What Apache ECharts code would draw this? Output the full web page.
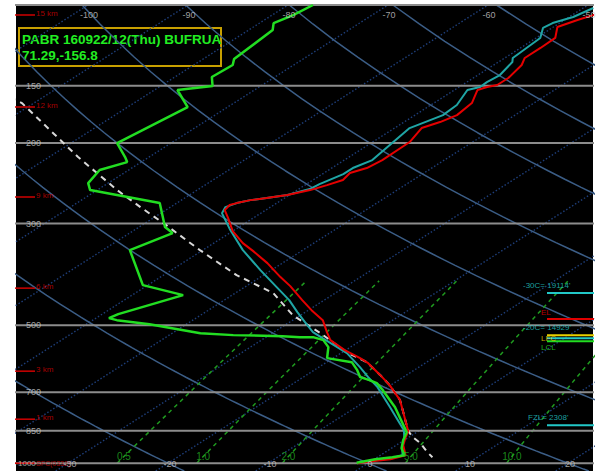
<!DOCTYPE html>
<html>
<head>
<meta charset="utf-8">
<script src="https://cdn.jsdelivr.net/npm/echarts/dist/echarts.min.js"></script>
<style>
  html, body { margin: 0; padding: 0; background: #fff; }
  #chart { width: 599px; height: 471px; }
</style>
</head>
<body>
<div id="chart"></div>
<script>
// ---- Sounding: PABR 160922/12Z (pressure hPa / temperature °C) ----
const tempP = [1000, 990.0, 980.1, 960.6, 913.6, 881.8, 851.5, 728.5, 675.6, 642.5, 604.9, 589.8, 566.6, 538.8, 517.6, 487.3, 463.4, 440.7, 410.7, 392.5, 365.9, 344.5, 330.9, 311.5, 291.8, 280.3, 273.3, 270.6, 266.6, 263.9, 259.9, 253.5, 247.2, 241.0, 232.7, 226.9, 218.0, 199.1, 185.6, 180.1, 173.9, 163.7, 153.3, 151.0, 149.5, 144.3, 135.2, 130.5, 124.1, 118.0, 111.7, 107.8, 105.2, 102.5];
const tempT = [-1.1, 0.1, 1.6, 2.5, 0.7, -0.2, -1.0, -6.7, -10.1, -12.6, -15.7, -17.3, -20.1, -23.1, -24.7, -27.0, -29.7, -32.2, -35.6, -38.0, -41.5, -44.8, -47.1, -50.0, -52.5, -54.1, -54.4, -54.0, -53.1, -51.8, -50.2, -48.7, -47.8, -47.0, -47.4, -46.5, -46.2, -46.3, -47.3, -46.4, -45.8, -46.2, -47.7, -47.2, -46.5, -46.5, -47.2, -48.0, -48.0, -48.1, -49.6, -48.7, -47.9, -47.0];

const virtP = [1000, 985.0, 975.2, 960.6, 922.7, 881.8, 847.1, 754.6, 682.4, 649.0, 617.1, 575.2, 533.4, 517.6, 497.2, 468.1, 440.7, 412.8, 379.0, 342.7, 309.9, 284.6, 276.1, 270.6, 266.6, 263.9, 259.9, 252.2, 246.0, 233.9, 226.9, 218.0, 185.6, 181.0, 173.9, 165.3, 153.3, 151.0, 147.3, 142.2, 133.2, 130.5, 118.0, 112.2, 109.5, 106.2, 101.5];
const virtT = [-1.1, 0.2, 1.6, 2.2, 0.9, -0.3, -1.6, -6.6, -11.0, -13.5, -15.9, -19.4, -24.2, -26.1, -28.0, -30.8, -33.5, -36.8, -41.1, -46.0, -50.4, -53.9, -54.5, -54.0, -53.1, -51.8, -50.2, -48.9, -48.7, -47.9, -47.9, -47.2, -48.5, -48.0, -47.2, -47.4, -48.7, -47.9, -48.0, -47.8, -48.6, -49.2, -49.6, -50.9, -50.7, -49.6, -49.0];

const dewP = [998, 980.1, 970.3, 960.6, 927.4, 890.8, 855.7, 754.6, 692.8, 668.9, 658.8, 649.0, 626.5, 601.8, 589.8, 558.1, 538.8, 530.8, 530.8, 528.1, 525.4, 520.2, 497.2, 487.3, 482.4, 472.8, 429.7, 408.6, 342.7, 314.6, 305.3, 270.6, 253.5, 244.7, 229.2, 220.2, 214.7, 200.1, 167.0, 153.3, 150.3, 143.6, 135.2, 131.2, 113.4, 109.5, 105.2, 100.0];
const dewT = [-1.2, 0.1, 1.5, 2.4, 1.0, -0.1, -1.0, -6.1, -10.0, -11.7, -12.9, -14.3, -15.7, -17.5, -20.6, -22.2, -23.8, -25.3, -26.6, -28.5, -33.6, -37.2, -43.7, -47.6, -48.7, -48.4, -44.9, -50.5, -57.3, -55.7, -57.4, -61.7, -70.7, -72.0, -72.9, -71.4, -72.4, -75.4, -74.0, -77.7, -74.8, -76.3, -76.1, -76.9, -77.6, -78.6, -77.9, -77.5];

// Lifted parcel (runs under the temperature trace between ~850 and ~600 hPa)
const parcelP = [158.8, 163.7, 214.7, 253.5, 276.1, 299.2, 342.7, 388.6, 425.4, 475.2, 520.2, 572.3, 601.8, 642.5, 675.6, 728.5, 851.5, 877.5, 904.3, 946.2, 970.3];
const parcelT = [-93.3, -91.2, -77.1, -68.0, -63.0, -58.2, -50.3, -42.7, -36.2, -30.8, -25.2, -19.6, -16.0, -12.6, -10.1, -6.7, -1.0, 0.4, 2.1, 4.2, 5.5];

// ---- Diagram background families ----
const isotherms = [-120, -110, -100, -90, -80, -70, -60, -50, -40, -30, -20, -10, 0, 10, 20, 30];
const dryAdiabatsK = [233.15, 253.15, 273.15, 293.15, 313.15, 333.15, 353.15, 373.15, 393.15, 413.15, 433.15, 453.15, 473.15];
const mixingRatios = [0.5, 1.0, 2.0, 5.0, 10.0, 20.0];
const mixingLabels = ['0.5', '1.0', '2.0', '5.0', '10.0'];
const pressureLines = [100, 150, 200, 300, 500, 700, 850, 1000];
const pressureLabels = ['150', '200', '300', '500', '700', '850', '1000'];
const pressureLabelLevels = [150, 200, 300, 500, 700, 850, 1000];
const topTempLabels = [-100, -90, -80, -70, -60, -50];
const bottomTempLabels = [-30, -20, -10, 0, 10, 20];

// Height markers (left edge)
const heightTexts = ['15 km', '12 km', '9 km', '6 km', '3 km', '1 km', 'SFC(0332)'];
const heightLevels = [105.2, 167.0, 262.6, 414.9, 629.7, 801.6, 1000];

// Level annotations (right edge)
const levelTexts = ["-30C= 19114'", 'EL', "-20C= 14929'", 'LFC', 'LCL', "FZL= 2308'"];
const levelPress = [425.4, 484.8, 533.4, 525.4, 541.5, 826.1];
const levelColors = ['#22c8c8', '#e00000', '#22c8c8', '#e8d000', '#22dd22', '#22c8c8'];

const titleLine1 = 'PABR 160922/12(Thu) BUFRUA';
const titleLine2 = '71.29,-156.8';

// ---- Skew-T geometry ----
const P_TOP = 100, P_BOT = 1040;
const X_MIN = -35.2, X_MAX = 22.5;
const SKEW = 72 / Math.LN10;          // isotherms lean 72 °C per pressure decade
const skewX = (t, p) => t + SKEW * Math.log(1000 / p);
const toPts = (ps, ts) => ps.map((p, i) => [skewX(ts[i], p), p]);

function dewFromMix(w, p) {
  const e = w * p / (622 + w);
  const a = Math.log(e / 6.112);
  return 243.5 * a / (17.67 - a);
}

const series = [];
function addLine(data, lineStyle, z) {
  series.push({
    type: 'line', data, symbol: 'none', showSymbol: false, silent: true,
    animation: false, clip: true, z, lineStyle
  });
}
function addLabels(items, label, z) {
  series.push({
    type: 'scatter', symbolSize: 1, silent: true, animation: false, clip: false, z,
    itemStyle: { color: 'rgba(0,0,0,0)' },
    data: items.map(it => {
      const d = { name: it.text, value: [it.x, it.p] };
      if (it.label) d.label = it.label;
      return d;
    }),
    label: Object.assign({ show: true, formatter: '{b}', position: 'inside',
      fontFamily: 'Liberation Sans', fontSize: 9 }, label)
  });
}

// Isotherms (dotted)
isotherms.forEach(t => addLine([[skewX(t, P_BOT), P_BOT], [skewX(t, P_TOP), P_TOP]],
  { color: '#1d3d78', width: 1.4, type: [1.5, 2] }, 1));

// Dry adiabats
const adiabatLevels = [];
for (let p = P_BOT; p >= P_TOP; p -= 10) adiabatLevels.push(p);
dryAdiabatsK.forEach(th => addLine(adiabatLevels.map(p => {
  const t = th * Math.pow(p / 1000, 0.2857) - 273.15;
  return [skewX(t, p), p];
}), { color: '#3b5d86', width: 1.5 }, 1));

// Saturation mixing-ratio lines (1000-400 hPa)
const mixLevels = [];
for (let p = 1000; p >= 400; p -= 25) mixLevels.push(p);
mixingRatios.forEach(w => addLine(mixLevels.map(p => [skewX(dewFromMix(w, p), p), p]),
  { color: '#1f9a1f', width: 1.5, type: [4, 4] }, 2));

// Pressure levels
pressureLines.forEach(p => addLine([[X_MIN - 1, p], [X_MAX + 1, p]],
  { color: '#8c8c8c', width: 2 }, 3));

// Height markers
heightLevels.forEach(p => addLine([[X_MIN - 0.5, p], [X_MIN + 1.9, p]],
  { color: '#d00000', width: 1.5 }, 6));

// Right-hand level lines
levelPress.forEach((p, i) => addLine([[17.9, p], [X_MAX + 1, p]],
  { color: levelColors[i], width: 2 }, 6));

// Parcel path
addLine(toPts(parcelP, parcelT), { color: '#d8d8d8', width: 2, type: [6, 5] }, 4);
// Virtual temperature, temperature, dewpoint
addLine(toPts(virtP, virtT), { color: '#1fa5a5', width: 2 }, 5);
addLine(toPts(tempP, tempT), { color: '#e50000', width: 2 }, 5);
addLine(toPts(dewP, dewT), { color: '#22dd22', width: 2.5 }, 5);

// Pressure labels
addLabels(pressureLabels.map((s, i) => ({
  text: s, x: X_MIN, p: pressureLabelLevels[i],
  label: s === '1000' ? { offset: [2, 0], fontSize: 8 } : undefined
})), { color: '#c8c8c8', align: 'left', verticalAlign: 'middle', offset: [10, 0] }, 7);
// Isotherm labels along 100 hPa and 1000 hPa
addLabels(topTempLabels.map(t => ({ text: String(t), x: skewX(t, 100), p: 100 })),
  { color: '#c8c8c8', align: 'center', verticalAlign: 'middle', offset: [1, 10] }, 7);
addLabels(bottomTempLabels.map(t => ({ text: String(t), x: skewX(t, 1000), p: 1000 })),
  { color: '#c8c8c8', align: 'center', verticalAlign: 'middle', offset: [2, 1] }, 9);
// Mixing-ratio labels
addLabels(mixingLabels.map((s, i) => ({ text: s, x: skewX(dewFromMix(mixingRatios[i], 967), 967), p: 967 })),
  { color: '#22aa22', align: 'center', verticalAlign: 'middle', fontSize: 10 }, 7);
// Height marker labels
addLabels(heightTexts.map((s, i) => ({
  text: s, x: X_MIN + 1.9, p: heightLevels[i],
  label: s.startsWith('SFC') ? { offset: [1, 0], fontSize: 7 } : undefined
})), { color: '#d00000', align: 'left', verticalAlign: 'middle', offset: [1, -2], fontSize: 8 }, 8);
// Level annotation labels
const levelTextX = [15.5, 17.3, 15.5, 17.3, 17.3, 16.0];
const levelTextDy = [-8, -7, -11, 3, 6, -8];
addLabels(levelTexts.map((s, i) => ({
  text: s, x: levelTextX[i], p: levelPress[i],
  label: { color: levelColors[i], offset: [0, levelTextDy[i]] }
})), { align: 'left', verticalAlign: 'middle', fontSize: 8 }, 8);

const chart = echarts.init(document.getElementById('chart'), null, { renderer: 'svg' });
chart.setOption({
  animation: false,
  grid: { left: 16, right: 6, top: 5, bottom: 0, show: true, backgroundColor: '#000', borderWidth: 0 },
  xAxis: { type: 'value', min: X_MIN, max: X_MAX, show: false },
  yAxis: { type: 'log', logBase: 10, min: P_TOP, max: P_BOT, inverse: true, show: false },
  series,
  graphic: [{
    type: 'group', left: 18, top: 27, z: 100,
    children: [
      { type: 'rect', shape: { x: 0, y: 0, width: 202, height: 38 },
        style: { fill: '#000', stroke: '#c8a000', lineWidth: 2 } },
      { type: 'text', x: 3, y: 11, style: { text: titleLine1, fill: '#22ee22',
        font: 'bold 13.5px "Liberation Sans"', verticalAlign: 'middle' } },
      { type: 'text', x: 3, y: 27, style: { text: titleLine2, fill: '#22ee22',
        font: 'bold 13.5px "Liberation Sans"', verticalAlign: 'middle' } }
    ]
  }]
});
</script>
</body>
</html>
